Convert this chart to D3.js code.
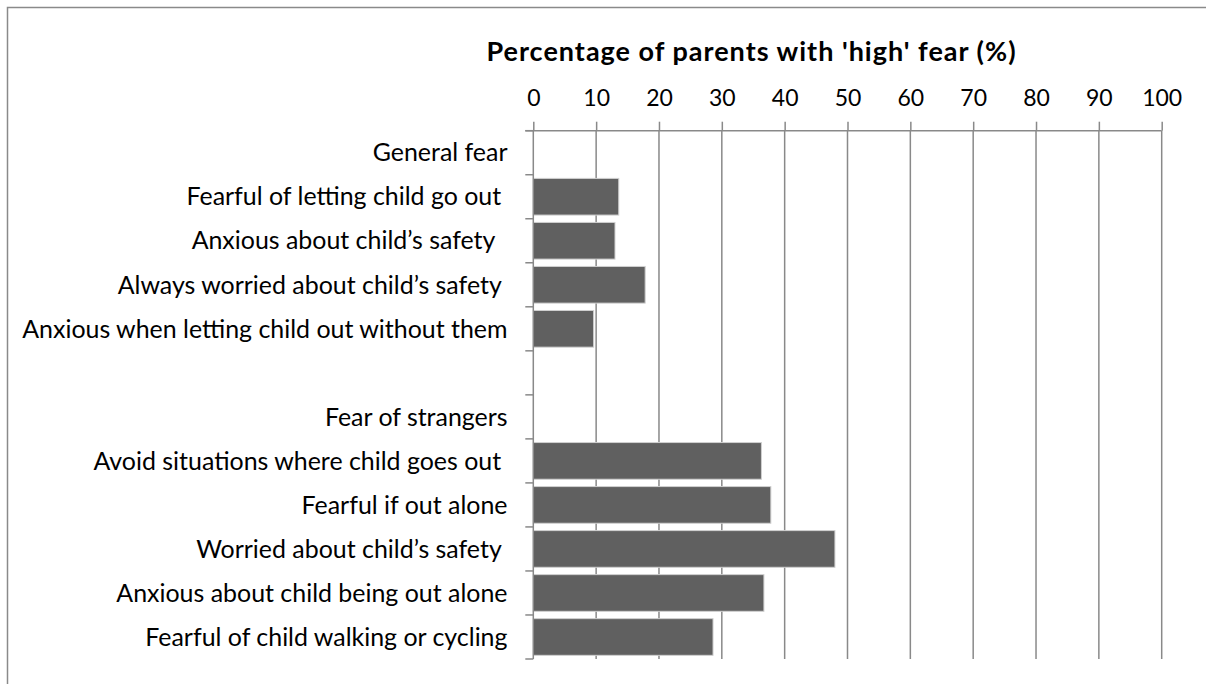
<!DOCTYPE html>
<html>
<head>
<meta charset="utf-8">
<script src="https://cdn.jsdelivr.net/npm/d3@7"></script>
<style>
  html, body { margin: 0; padding: 0; background: #fff; }
  svg { display: block; }
  text { font-family: Lato, "Open Sans", sans-serif; fill: #000; white-space: pre; }
</style>
</head>
<body>
<svg id="chart" width="1206" height="684"></svg>
<script>
// ---- data ----
const categories = [
  "General fear",
  "Fearful of letting child go out ",
  "Anxious about child\u2019s safety  ",
  "Always worried about child\u2019s safety ",
  "Anxious when letting child out without them",
  "",
  "Fear of strangers",
  "Avoid situations where child goes out ",
  "Fearful if out alone",
  "Worried about child\u2019s safety ",
  "Anxious about child being out alone",
  "Fearful of child walking or cycling"
];
const values = [null, 13.6, 13.0, 17.8, 9.6, null, null, 36.3, 37.8, 48.0, 36.7, 28.6];
const xTicks = [0, 10, 20, 30, 40, 50, 60, 70, 80, 90, 100];
const xTitle = "Percentage of parents with 'high' fear (%)";

// ---- layout ----
const svg = d3.select("#chart");
const plot = { left: 533.3, right: 1161.7, top: 130.7, bottom: 659 };
const gridColor = "#898989";

// outer frame (left + top edges visible)
svg.append("path")
  .attr("d", "M7.5,684 L7.5,7.5 L1206,7.5")
  .attr("fill", "none").attr("stroke", "#8a8a8a").attr("stroke-width", 1.5);

const x = d3.scaleLinear().domain([0, 100]).range([plot.left, plot.right]);
const idx = d3.range(categories.length);
const y = d3.scaleBand().domain(idx).range([plot.top, plot.bottom])
  .paddingInner(0.167).paddingOuter(0.0835);

// font fitting helper
function fitSize(str, targetW, weight) {
  const t = svg.append("text").attr("font-size", 100).attr("font-weight", weight || "normal").text(str);
  const w = t.node().getComputedTextLength();
  t.remove();
  return 100 * targetW / w;
}
const labelSize = fitSize("Anxious when letting child out without them", 485.5);
const titleSize = 27;
const tickSize = 23;

// gridlines (vertical)
svg.append("g").selectAll("line").data(xTicks.slice(1)).join("line")
  .attr("x1", d => x(d)).attr("x2", d => x(d))
  .attr("y1", plot.top).attr("y2", plot.bottom)
  .attr("stroke", gridColor).attr("stroke-width", 1.5);

// top axis
const xAxis = d3.axisTop(x).tickValues(xTicks).tickSize(9).tickPadding(17).tickFormat(d3.format("d"));
const gx = svg.append("g").attr("transform", `translate(0,${plot.top})`).call(xAxis);
gx.select(".domain").attr("stroke", gridColor).attr("stroke-width", 1.5)
  .attr("d", `M${plot.left - 8},0H${plot.right}`);
gx.selectAll(".tick line").attr("stroke", gridColor).attr("stroke-width", 1.5);
gx.selectAll(".tick text")
  .attr("font-family", "Lato, 'Open Sans', sans-serif")
  .attr("font-size", tickSize).attr("fill", "#000")
  .attr("dy", 0).attr("y", 106 - plot.top);

// title
svg.append("text")
  .attr("x", 751.5).attr("y", 61)
  .attr("text-anchor", "middle")
  .attr("font-weight", "bold")
  .attr("font-size", titleSize)
  .attr("letter-spacing", 1)
  .text(xTitle);

// bars
svg.append("g").selectAll("rect").data(idx.filter(i => values[i] != null)).join("rect")
  .attr("x", x(0))
  .attr("y", i => y(i))
  .attr("width", i => x(values[i]) - x(0))
  .attr("height", y.bandwidth())
  .attr("fill", "#606060")
  .attr("stroke", "#d0d0d0").attr("stroke-width", 1);

// left axis line and category boundary ticks
const step = y.step();
const boundaries = d3.range(categories.length + 1).map(k => plot.top + k * step);
svg.append("line")
  .attr("x1", plot.left).attr("x2", plot.left)
  .attr("y1", plot.top).attr("y2", plot.bottom)
  .attr("stroke", gridColor).attr("stroke-width", 1.5);
svg.append("g").selectAll("line").data(boundaries).join("line")
  .attr("x1", plot.left - 8).attr("x2", plot.left)
  .attr("y1", d => d).attr("y2", d => d)
  .attr("stroke", gridColor).attr("stroke-width", 1.5);

// category labels
svg.append("g").selectAll("text").data(idx).join("text")
  .attr("x", 507.5)
  .attr("y", i => y(i) + y.bandwidth() / 2)
  .attr("dy", "0.35em")
  .attr("text-anchor", "end")
  .attr("font-size", labelSize)
  .text(i => categories[i]);
</script>
</body>
</html>
